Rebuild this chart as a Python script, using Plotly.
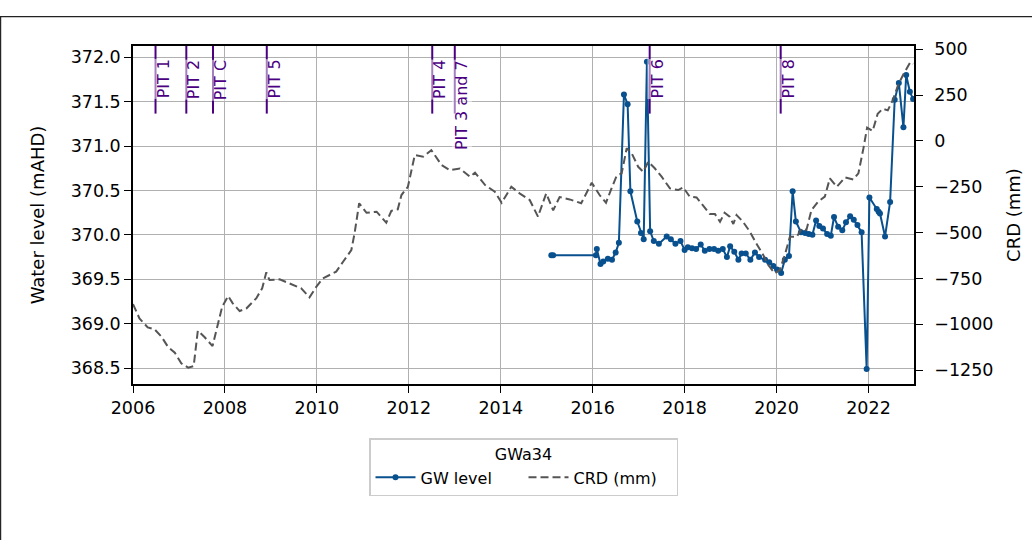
import plotly.graph_objects as go

# ---------------- data ----------------
gw_year = [2015.10, 2015.14, 2016.07, 2016.09, 2016.17, 2016.23, 2016.33, 2016.42, 2016.50, 2016.57,
           2016.68, 2016.76, 2016.82, 2016.97, 2017.05, 2017.11, 2017.18, 2017.25, 2017.33, 2017.44,
           2017.61, 2017.70, 2017.80, 2017.91, 2018.00, 2018.07, 2018.16, 2018.25, 2018.35, 2018.44,
           2018.54, 2018.64, 2018.73, 2018.83, 2018.92, 2018.99, 2019.08, 2019.17, 2019.24, 2019.33,
           2019.43, 2019.53, 2019.62, 2019.75, 2019.84, 2019.93, 2020.01, 2020.10, 2020.18, 2020.27,
           2020.35, 2020.42, 2020.53, 2020.62, 2020.70, 2020.78, 2020.86, 2020.93, 2021.01, 2021.10,
           2021.18, 2021.25, 2021.34, 2021.43, 2021.51, 2021.60, 2021.68, 2021.76, 2021.85, 2021.96,
           2022.02, 2022.18, 2022.22, 2022.25, 2022.36, 2022.47, 2022.57, 2022.66, 2022.76, 2022.82,
           2022.90, 2022.97]
gw_level = [369.77, 369.77, 369.77, 369.84, 369.67, 369.70, 369.73, 369.72, 369.80, 369.91,
            371.58, 371.47, 370.49, 370.15, 370.02, 369.95, 371.95, 370.04, 369.93, 369.90,
            369.98, 369.95, 369.90, 369.93, 369.83, 369.86, 369.85, 369.84, 369.89, 369.82,
            369.84, 369.84, 369.82, 369.84, 369.75, 369.87, 369.81, 369.72, 369.79, 369.79,
            369.72, 369.80, 369.75, 369.72, 369.69, 369.65, 369.61, 369.57, 369.72, 369.76,
            370.49, 370.15, 370.03, 370.02, 370.01, 370.00, 370.16, 370.10, 370.07, 370.01,
            369.99, 370.20, 370.09, 370.05, 370.14, 370.21, 370.17, 370.11, 370.03, 368.49,
            370.42, 370.29, 370.26, 370.24, 369.98, 370.37, 371.52, 371.71, 371.21, 371.80,
            371.61, 371.53]

crd_year = [2006.00, 2006.14, 2006.32, 2006.47, 2006.62, 2006.76, 2006.91, 2007.05, 2007.20, 2007.32,
            2007.41, 2007.56, 2007.73, 2007.83, 2007.94, 2008.07, 2008.17, 2008.32, 2008.47, 2008.68,
            2008.81, 2008.90, 2008.97, 2009.19, 2009.48, 2009.66, 2009.84, 2009.99, 2010.13, 2010.28,
            2010.42, 2010.57, 2010.75, 2010.82, 2010.92, 2011.08, 2011.30, 2011.51, 2011.62, 2011.76,
            2011.84, 2011.98, 2012.13, 2012.31, 2012.49, 2012.71, 2012.89, 2013.11, 2013.33, 2013.44,
            2013.66, 2013.87, 2014.02, 2014.23, 2014.41, 2014.63, 2014.81, 2014.99, 2015.14, 2015.28,
            2015.50, 2015.75, 2015.98, 2016.15, 2016.29, 2016.41, 2016.52, 2016.63, 2016.74, 2016.85,
            2016.99, 2017.10, 2017.21, 2017.35, 2017.50, 2017.68, 2017.86, 2017.97, 2018.11, 2018.26,
            2018.40, 2018.55, 2018.66, 2018.77, 2018.87, 2018.98, 2019.06, 2019.13, 2019.27, 2019.42,
            2019.56, 2019.71, 2019.82, 2019.96, 2020.07, 2020.18, 2020.29, 2020.44, 2020.55, 2020.65,
            2020.76, 2020.90, 2021.05, 2021.16, 2021.31, 2021.49, 2021.67, 2021.78, 2021.89, 2021.97,
            2022.09, 2022.20, 2022.31, 2022.42, 2022.53, 2022.65, 2022.76, 2022.84, 2022.91, 2022.97]
crd_mm = [-890, -968, -1017, -1028, -1068, -1123, -1155, -1213, -1237, -1228,
          -1035, -1071, -1119, -1013, -904, -846, -886, -928, -913, -859,
          -804, -717, -759, -755, -786, -804, -853, -795, -750, -731,
          -713, -659, -595, -504, -340, -392, -386, -446, -381, -373,
          -295, -250, -77, -86, -50, -131, -159, -150, -195, -173,
          -241, -277, -337, -250, -286, -322, -413, -286, -379, -306,
          -319, -340, -228, -295, -337, -259, -191, -177, -40, -68,
          -141, -168, -113, -149, -195, -259, -268, -253, -304, -308,
          -350, -399, -399, -441, -392, -413, -453, -404, -441, -495,
          -559, -622, -677, -722, -704, -622, -523, -523, -477, -486,
          -377, -332, -304, -204, -250, -199, -210, -177, -40, 73,
          54, 148, 176, 167, 223, 308, 364, 402, 430, 421]

pit_names = ["PIT 1", "PIT 2", "PIT C", "PIT 5", "PIT 4", "PIT 3 and 7", "PIT 6", "PIT 8"]
pit_year = [2006.49, 2007.16, 2007.74, 2008.91, 2012.51, 2013.00, 2017.24, 2020.09]

x_ticks = [2006, 2008, 2010, 2012, 2014, 2016, 2018, 2020, 2022]
y_ticks = [368.5, 369.0, 369.5, 370.0, 370.5, 371.0, 371.5, 372.0]
y2_ticks = [-1250, -1000, -750, -500, -250, 0, 250, 500]

# ---------------- figure ----------------
FONT = "DejaVu Sans"
GW_COLOR = "#08508e"
PIT_COLOR = "#4b0082"

fig = go.Figure()
fig.add_trace(go.Scatter(
    x=gw_year, y=gw_level, name="GW level", mode="lines+markers",
    line=dict(color=GW_COLOR, width=2), marker=dict(color=GW_COLOR, size=6),
    yaxis="y"))
fig.add_trace(go.Scatter(
    x=crd_year, y=crd_mm, name="CRD (mm)", mode="lines",
    line=dict(color="#555555", width=2, dash="8px,4px"),
    yaxis="y2"))

shapes = []
annotations = []
for name, yr in zip(pit_names, pit_year):
    shapes.append(dict(type="line", xref="x", yref="paper", x0=yr, x1=yr, y0=0.8, y1=1.0,
                       line=dict(color=PIT_COLOR, width=2)))
    annotations.append(dict(x=yr, y=0.962, xref="x", yref="paper", text=name,
                            textangle=-90, showarrow=False, xanchor="left", yanchor="top",
                            xshift=-3, bgcolor="rgba(255,255,255,0.5)", borderpad=0,
                            font=dict(family=FONT, size=16, color=PIT_COLOR)))

# outer frame of the figure (extends beyond the visible canvas)
shapes.append(dict(type="rect", xref="paper", yref="paper", x0=-0.1695, x1=1.3, y0=-0.7, y1=1.087,
                   line=dict(color="#222222", width=1.2), fillcolor="rgba(0,0,0,0)", layer="above"))

axis_common = dict(showline=True, linecolor="black", linewidth=1.5, ticks="outside", ticklen=7,
                   tickwidth=1.4, tickcolor="black", tickfont=dict(family=FONT, size=17.5, color="black"),
                   zeroline=False, automargin=False)

fig.update_layout(
    width=1032, height=540,
    margin=dict(l=133, r=118, t=46, b=156, autoexpand=False),
    paper_bgcolor="white", plot_bgcolor="white",
    font=dict(family=FONT, color="black"),
    xaxis=dict(range=[2006.0, 2022.99], tickvals=x_ticks, ticktext=[str(v) for v in x_ticks],
               showgrid=True, gridcolor="#b0b0b0", gridwidth=1.4, mirror=True, **axis_common),
    yaxis=dict(range=[368.32, 372.126], tickvals=y_ticks, tickformat=".1f",
               showgrid=True, gridcolor="#b0b0b0", gridwidth=1.4,
               title=dict(text="Water level (mAHD)", font=dict(family=FONT, size=18, color="black"),
                          standoff=21),
               **axis_common),
    yaxis2=dict(range=[-1326, 518], tickvals=y2_ticks, overlaying="y", side="right",
                showgrid=False, ticklabelstandoff=8,
                title=dict(text="CRD (mm)", font=dict(family=FONT, size=18, color="black"),
                           standoff=15),
                **axis_common),
    showlegend=True,
    legend=dict(orientation="h", x=0.5, xanchor="center", y=-0.16, yanchor="top",
                bordercolor="#cccccc", borderwidth=1.5, bgcolor="white",
                entrywidth=98, itemwidth=40,
                font=dict(family=FONT, size=16, color="black"),
                title=dict(text="GWa34", side="top center", font=dict(family=FONT, size=16, color="black"))),
    shapes=shapes,
    annotations=annotations,
)

fig.write_html("out.html", config={"displayModeBar": False},
               post_script="document.body.style.margin='0px';")
